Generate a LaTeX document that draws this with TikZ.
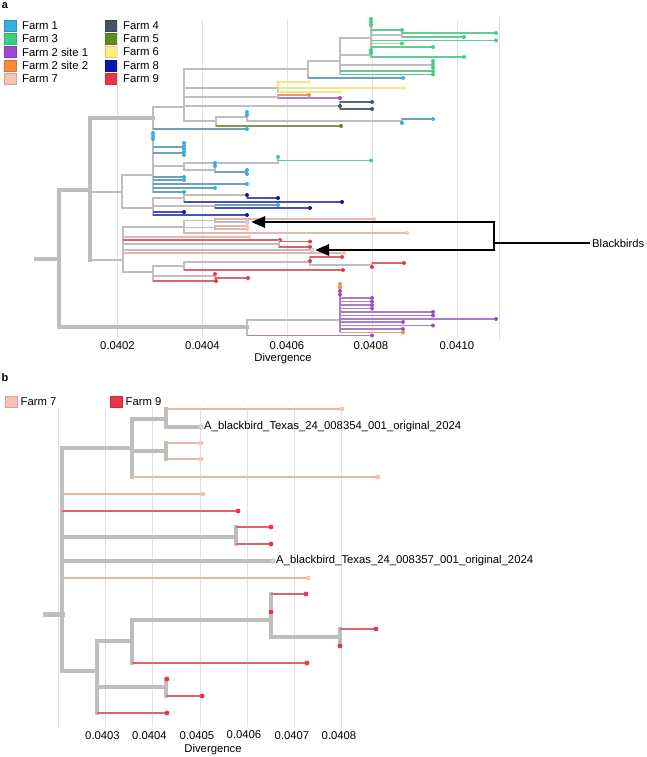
\documentclass[tikz,border=0pt]{standalone}
\usepackage{fontspec}
\setmainfont{Liberation Sans}
\usetikzlibrary{arrows.meta,positioning}

\definecolor{fone}{HTML}{3AAEDD}
\definecolor{fthree}{HTML}{3CD07E}
\definecolor{ftwoa}{HTML}{9E48D2}
\definecolor{ftwob}{HTML}{F98A3A}
\definecolor{fseven}{HTML}{F7C2B5}
\definecolor{ffour}{HTML}{44516B}
\definecolor{ffive}{HTML}{66861F}
\definecolor{fsix}{HTML}{FFEF7E}
\definecolor{feight}{HTML}{0A17AA}
\definecolor{fnine}{HTML}{EC3448}
\definecolor{brgray}{HTML}{BEBEBE}
\definecolor{gridgray}{HTML}{E1E1E1}

\tikzset{
  br/.style={draw=brgray, line width=1.4pt, line cap=rect},
  brm/.style={br, line width=2pt},
  brb/.style={br, line width=2.6pt},
  brc/.style={br, line width=3.3pt},
  brr/.style={br, line width=4.2pt},
  e1/.style={draw=fone!55!brgray!90!black, line width=1.4pt},
  e3/.style={draw=fthree!70!brgray, line width=1.4pt},
  e2a/.style={draw=ftwoa!55!brgray, line width=1.4pt},
  e2b/.style={draw=ftwob!65!brgray, line width=1.4pt},
  e4/.style={draw=ffour!80!brgray, line width=1.4pt},
  e5/.style={draw=ffive!70!brgray, line width=1.4pt},
  e6/.style={draw=fsix!80!brgray, line width=1.4pt},
  e7/.style={draw=fseven!85!brgray!95!black, line width=1.4pt},
  e8/.style={draw=feight!65!brgray, line width=1.4pt},
  e9/.style={draw=fnine!65!brgray, line width=1.4pt},
  gridln/.style={draw=gridgray, line width=0.8pt},
  legsq/.style={draw=#1!85!black, fill=#1, line width=0.4pt, minimum width=11.5pt, minimum height=11pt, inner sep=0pt},
  legtxt/.style={inner sep=0pt, anchor=west},
  ticklbl/.style={inner sep=0pt},
  bkline/.style={draw=black, line width=2.6pt},
  bbtip/.style={fill=brgray!60, draw=brgray, line width=0.5pt},
}

\newcommand{\tipbr}[5]{\draw[#1] (#2,#4) -- (#3,#4); \fill[#5] (#3,#4) circle[radius=2pt];}
\newcommand{\tipdot}[3]{\fill[#1] (#2,#3) circle[radius=2pt];}
\newcommand{\tipbrb}[5]{\draw[#1, line width=2.3pt] (#2,#4) -- (#3,#4); \fill[#5] (#3,#4) circle[radius=2.4pt];}
\newcommand{\tipdotb}[3]{\fill[#1] (#2,#3) circle[radius=2.4pt];}

\begin{document}
\begin{tikzpicture}[x=1pt, y=-1pt, font=\fontsize{11.3}{13}\selectfont]
\useasboundingbox[fill=white] (0,0) rectangle (647,757);

% ---------------- panel a ----------------
\node[font=\fontsize{11}{13}\bfseries\selectfont] (lbla) at (5,5.5) {a};

% legend
\node[legsq=fone] (lg1) at (10,25.5) {};
\node[legtxt, right=6pt of lg1] (lt1) {Farm 1};
\node[legsq=fthree] (lg3) at (10,38.5) {};
\node[legtxt, right=6pt of lg3] (lt3) {Farm 3};
\node[legsq=ftwoa] (lg2a) at (10,52) {};
\node[legtxt, right=6pt of lg2a] (lt2a) {Farm 2 site 1};
\node[legsq=ftwob] (lg2b) at (10,65.5) {};
\node[legtxt, right=6pt of lg2b] (lt2b) {Farm 2 site 2};
\node[legsq=fseven] (lg7) at (10,79) {};
\node[legtxt, right=6pt of lg7] (lt7) {Farm 7};
\node[legsq=ffour] (lg4) at (111,25.5) {};
\node[legtxt, right=6pt of lg4] (lt4) {Farm 4};
\node[legsq=ffive] (lg5) at (111,38.5) {};
\node[legtxt, right=6pt of lg5] (lt5) {Farm 5};
\node[legsq=fsix] (lg6) at (111,52) {};
\node[legtxt, right=6pt of lg6] (lt6) {Farm 6};
\node[legsq=feight] (lg8) at (111,65.5) {};
\node[legtxt, right=6pt of lg8] (lt8) {Farm 8};
\node[legsq=fnine] (lg9) at (111,79) {};
\node[legtxt, right=6pt of lg9] (lt9) {Farm 9};

% grid
\foreach \gx in {117.5,202.5,287.5,372.5,457.5}{
  \draw[gridln] (\gx,20) -- (\gx,338);
}
\draw[gridln] (499,17) -- (499,340);

% backbone
\draw[brr] (36,259) -- (59,259);
\draw[brr] (59,190) -- (59,327);
\draw[brr] (59,190) -- (90,190);
\draw[brc] (59,327) -- (247,327);
\draw[brc] (90,118) -- (90,260);
\draw[brc] (90,118) -- (153,118);
\draw[brb] (90,192) -- (122,192);
\draw[brb] (90,260) -- (123,260);

% top clade
\draw[brb] (153,107) -- (153,129);
\draw[brb] (153,107) -- (184,107);
\tipbr{e1}{153}{247}{129}{fone}
\draw[brm] (184,69) -- (184,121);
\draw[brm] (184,69) -- (308,69);
\draw[br] (184,88) -- (278,88);
\draw[br] (184,97) -- (278,97);
\draw[br] (184,106) -- (340,106);
\draw[br] (184,121) -- (216,121);
\draw[brm] (308,61) -- (308,78);
\draw[brm] (308,61) -- (340,61);
\tipbr{e1}{308}{403}{78}{fone}
\draw[brm] (340,38) -- (340,74);
\draw[br] (340,38) -- (371,38);
\draw[br] (340,55) -- (371,55);
\draw[br] (340,65) -- (433,65);
\tipbr{e3}{340}{433}{71}{fthree}
\tipbr{e3}{340}{433}{74.5}{fthree}
\tipdot{fthree}{433}{61}
\tipdot{fthree}{433}{64}
\tipdot{fthree}{433}{67.5}
% farm 3 subclades
\draw[br] (371,19) -- (371,47);
\tipdot{fthree}{371}{19}
\tipdot{fthree}{371}{22}
\tipdot{fthree}{371}{25}
\tipbr{e3}{371}{402}{30}{fthree}
\draw[br] (371,35) -- (402,35);
\draw[br] (402,33) -- (402,37);
\tipbr{e3}{402}{496}{33}{fthree}
\tipbr{e3}{402}{464}{37}{fthree}
\tipbr{e3}{371}{496}{40.5}{fthree}
\draw[br] (371,43.5) -- (402,43.5);
\tipdot{fthree}{402}{43.5}
\tipbr{e3}{371}{433}{47}{fthree}
\draw[br] (371,50) -- (371,57);
\tipdot{fthree}{371}{50}
\tipdot{fthree}{371}{53}
\tipbr{e3}{371}{464}{57}{fthree}
% farm 6
\draw[br] (278,82) -- (278,92);
\tipbr{e6}{278}{309}{82}{fsix}
\tipdot{fsix}{278}{85}
\tipbr{e6}{278}{404}{88}{fsix}
\tipbr{e6}{278}{340}{92}{fsix}
% farm 2
\draw[br] (278,95) -- (278,98);
\tipbr{e2b}{278}{309}{95}{ftwob}
\tipbr{e2a}{278}{340}{98}{ftwoa}
% farm 4
\draw[br] (340,102) -- (340,109);
\tipbr{e4}{340}{372}{102}{ffour}
\tipbr{e4}{340}{372}{109}{ffour}
\tipdot{ffour}{340}{106}
% farm 1 / farm 5
\draw[br] (216,117) -- (216,126);
\draw[br] (216,117) -- (247,117);
\draw[br] (247,112) -- (247,121);
\tipdot{fone}{247}{112}
\tipdot{fone}{247}{115}
\draw[br] (247,121) -- (402,121);
\draw[br] (402,119) -- (402,123);
\tipbr{e1}{402}{433}{119}{fone}
\tipdot{fone}{402}{123}
\tipbr{e5}{216}{341}{126}{ffive}

% farm 1 clade
\draw[brb] (122,175) -- (122,208);
\draw[brm] (122,175) -- (153,175);
\draw[brm] (153,132) -- (153,192);
\tipdot{fone}{153}{133}
\tipdot{fone}{153}{136}
\tipdot{fone}{153}{139}
\draw[e1] (153,147) -- (184,147);
\draw[e1] (153,153) -- (184,153);
\foreach \ty in {143,146,149,152,155}{
  \tipdot{fone}{184}{\ty}
}
\draw[br] (153,166) -- (184,166);
\draw[br] (184,163) -- (184,170);
\draw[br] (184,163) -- (278,163);
\draw[br] (278,157) -- (278,163);
\tipdot{fthree}{278}{157}
\tipbr{e3}{278}{371}{160.5}{fthree}
\draw[br] (184,170) -- (215,170);
\draw[br] (215,163) -- (215,172);
\tipdot{fone}{215}{163}
\tipdot{fone}{215}{166}
\draw[e1] (215,172) -- (247,172);
\tipdot{fone}{247}{170}
\tipdot{fone}{247}{174}
\draw[e1] (153,177) -- (184,177);
\draw[e1] (153,180) -- (184,180);
\tipdot{fone}{184}{177}
\tipdot{fone}{184}{180}
\tipbr{e1}{153}{247}{184}{fone}
\tipbr{e1}{153}{215}{188}{fone}
\tipbr{e1}{153}{184}{192}{fone}

% farm 8 clade
\draw[brm] (122,208) -- (153,208);
\draw[br] (153,198) -- (153,215);
\draw[br] (153,198) -- (184,198);
\draw[br] (184,195) -- (184,202);
\draw[br] (184,195) -- (247,195);
\draw[br] (247,195) -- (247,198);
\tipdot{feight}{247}{195}
\tipbr{e8}{247}{278}{198}{feight}
\tipbr{e8}{184}{342}{202}{feight}
\draw[br] (153,206) -- (215,206);
\draw[br] (215,205) -- (215,208);
\tipbr{e1}{215}{278}{205}{fone}
\tipbr{e8}{215}{310}{208}{feight}
\tipbr{e8}{153}{184}{212}{feight}
\tipbr{e8}{153}{247}{215}{feight}

% farm 7 / farm 9 clade
\draw[brb] (123,227) -- (123,272);
\draw[br] (123,227) -- (184,227);
\draw[br] (184,220.5) -- (184,233);
\draw[br] (184,220.5) -- (215,220.5);
\draw[br] (215,219) -- (215,222);
\tipbr{e7}{215}{374}{219}{fseven}
\draw[br] (215,222) -- (247,222);
\draw[br] (184,227.5) -- (215,227.5);
\draw[br] (215,226) -- (215,229);
\tipbr{e7}{215}{247}{226}{fseven}
\tipbr{e7}{215}{247}{229}{fseven}
\tipbr{e7}{184}{407}{233}{fseven}
\tipbr{e7}{123}{249}{237}{fseven}
\tipbr{e9}{123}{280}{240}{fnine}
\draw[br] (123,244) -- (279,244);
\draw[br] (279,241) -- (279,247);
\tipbr{e9}{279}{310}{241.5}{fnine}
\tipbr{e9}{279}{310}{247}{fnine}
\draw[br] (123,250) -- (312,250);
\tipbr{e7}{123}{344}{253}{fseven}
\draw[brm] (123,272) -- (153,272);
\draw[br] (153,266) -- (153,281);
\draw[br] (153,266) -- (184,266);
\draw[br] (184,262) -- (184,270);
\draw[br] (184,262) -- (310,262);
\draw[br] (310,257) -- (310,265);
\tipbr{e9}{310}{342}{257}{fnine}
\tipdot{fnine}{310}{261}
\draw[br] (310,265) -- (372,265);
\draw[br] (372,263) -- (372,267);
\tipbr{e9}{372}{404}{263}{fnine}
\tipdot{fnine}{372}{267}
\tipbr{e9}{184}{343}{270}{fnine}
\draw[br] (153,276) -- (215,276);
\draw[br] (215,274) -- (215,278);
\tipdot{fnine}{215}{274}
\tipbr{e9}{215}{248}{278}{fnine}
\tipbr{e9}{153}{216}{281}{fnine}
% blackbird tips
\fill[bbtip] (247,222) circle[radius=2pt];
\fill[bbtip] (312,250) circle[radius=2pt];
\coordinate (bbtipA) at (251,222);
\coordinate (bbtipB) at (315,250);

% farm 2 clade
\draw[brb] (247,320) -- (247,335);
\draw[brm] (247,320) -- (340,320);
\tipbr{e2a}{247}{372}{335.5}{ftwoa}
\draw[e2a] (340,284) -- (340,332);
\tipdot{ftwob}{340}{284}
\tipdot{ftwob}{340}{287.5}
\tipdot{ftwoa}{340}{291}
\tipdot{ftwoa}{340}{294.5}
\foreach \ty in {298,301.5,305,308.5}{
  \tipbr{e2a}{340}{372}{\ty}{ftwoa}
}
\tipbr{e2a}{340}{433}{312}{ftwoa}
\tipbr{e2a}{340}{433}{315.5}{ftwoa}
\tipbr{e2a}{340}{496}{319}{ftwoa}
\tipbr{e2a}{340}{403}{322}{ftwoa}
\tipbr{e2a}{340}{433}{325.5}{ftwoa}
\tipbr{e2a}{340}{403}{329}{ftwoa}
\tipbr{e2b}{340}{403}{332.5}{ftwob}

% blackbird callout
\node[anchor=west, inner sep=0pt] (bbird) at (592,243) {Blackbirds};
\coordinate (bkT) at (494,222);
\coordinate (bkB) at (494,250);
\coordinate (bkM) at (494,243);
\draw[bkline] ([xshift=-2pt]bbird.west) -- (bkM);
\draw[bkline, {Triangle[length=14pt,width=11pt]}-{Triangle[length=14pt,width=11pt]}] (bbtipA) -- (bkT) -- (bkB) -- (bbtipB);

% axis a
\node[ticklbl] (ta1) at (117.5,346) {0.0402};
\node[ticklbl] (ta2) at (202.5,346) {0.0404};
\node[ticklbl] (ta3) at (287,346) {0.0406};
\node[ticklbl] (ta4) at (371,346) {0.0408};
\node[ticklbl] (ta5) at (457,346) {0.0410};
\node[ticklbl] (diva) at (283,358.5) {Divergence};

% ---------------- panel b ----------------
\node[font=\fontsize{11}{13}\bfseries\selectfont] (lblb) at (5,377.5) {b};
\node[legsq=fseven] (lb7) at (11,401.5) {};
\node[legtxt, right=3.5pt of lb7] (ltb7) {Farm 7};
\node[legsq=fnine] (lb9) at (116,401.5) {};
\node[legtxt, right=3.5pt of lb9] (ltb9) {Farm 9};

\foreach \gx in {58.3,105.5,152.7,199.9,247.1,294.3,341.5}{
  \draw[gridln] (\gx,407) -- (\gx,727);
}

\draw[brr, line width=5pt] (45,614) -- (62,614);
\draw[brr] (62,448) -- (62,671);
\draw[brc] (62,448) -- (132,448);
\draw[brc] (132,419) -- (132,477);
\draw[brc] (132,419) -- (166,419);
\draw[brc] (166,409) -- (166,427);
\tipbrb{e7}{166}{342}{409}{fseven}
\draw[brc] (166,427) -- (200,427);
\fill[bbtip] (201,427) circle[radius=2.4pt];
\node[anchor=west, inner sep=0pt] (bb1) at (204,427) {A\_blackbird\_Texas\_24\_008354\_001\_original\_2024};
\draw[brc] (132,451) -- (166,451);
\draw[brc] (166,443) -- (166,459);
\tipbrb{e7}{166}{201}{443}{fseven}
\tipbrb{e7}{166}{201}{459}{fseven}
\tipbrb{e7}{132}{378}{477}{fseven}
\tipbrb{e7}{62}{203}{494}{fseven}
\tipbrb{e9}{62}{238}{511}{fnine}
\draw[brc] (62,537) -- (236,537);
\draw[brc] (236,527) -- (236,544);
\tipbrb{e9}{236}{271}{527}{fnine}
\tipbrb{e9}{236}{271}{544}{fnine}
\draw[brc] (62,561) -- (272,561);
\fill[bbtip] (273,561) circle[radius=2.4pt];
\node[anchor=west, inner sep=0pt] (bb2) at (276,561) {A\_blackbird\_Texas\_24\_008357\_001\_original\_2024};
\tipbrb{e7}{62}{308}{578}{fseven}
\draw[brc] (62,671) -- (97,671);
\draw[brc] (97,641) -- (97,713);
\draw[brc] (97,641) -- (132,641);
\draw[brc] (132,620) -- (132,663);
\draw[brc] (132,620) -- (271,620);
\draw[brc] (271,594) -- (271,637);
\tipbrb{e9}{271}{306}{594}{fnine}
\tipdotb{fnine}{271}{612}
\draw[brc] (271,637) -- (340,637);
\draw[brc] (340,629) -- (340,646);
\tipbrb{e9}{340}{376}{629}{fnine}
\tipdotb{fnine}{340}{646}
\tipbrb{e9}{132}{307}{663}{fnine}
\draw[brc] (97,687) -- (166,687);
\draw[brc] (166,679) -- (166,696);
\tipdotb{fnine}{167}{679}
\tipbrb{e9}{166}{202}{696}{fnine}
\tipbrb{e9}{97}{167}{713}{fnine}

% axis b
\node[ticklbl] (tb1) at (102.5,736) {0.0403};
\node[ticklbl] (tb2) at (149.5,736) {0.0404};
\node[ticklbl] (tb3) at (197,736) {0.0405};
\node[ticklbl] (tb4) at (244,735) {0.0406};
\node[ticklbl] (tb5) at (292,736) {0.0407};
\node[ticklbl] (tb6) at (339,736) {0.0408};
\node[ticklbl] (divb) at (213,750) {Divergence};
\end{tikzpicture}
\end{document}
